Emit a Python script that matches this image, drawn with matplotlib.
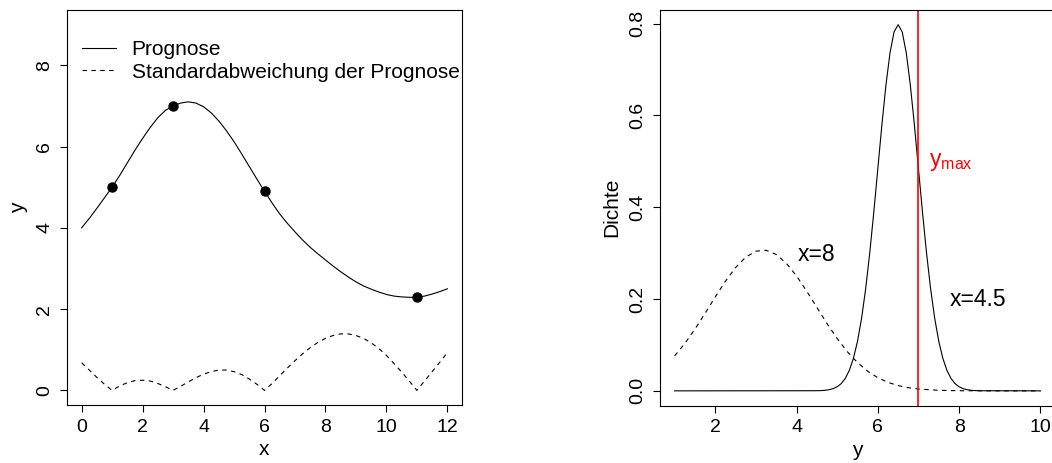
import numpy as np
import matplotlib
matplotlib.use("Agg")
import matplotlib.pyplot as plt

plt.rcParams['font.family'] = ['Liberation Sans', 'DejaVu Sans']
plt.rcParams['font.size'] = 14

# observed points
obs_x = [1, 3, 6, 11]
obs_y = [5.0, 7.0, 4.9, 2.3]

# prediction and its standard deviation, sampled every 0.25 on x in [0, 12]
grid_x = np.arange(0, 12.01, 0.25)
prognose = [4.00, 4.23, 4.48, 4.74, 5.00, 5.29, 5.60, 5.91, 6.20, 6.47, 6.71, 6.89,
            7.00, 7.07, 7.10, 7.07, 6.98, 6.83, 6.63, 6.39, 6.12, 5.82, 5.51, 5.20,
            4.90, 4.61, 4.34, 4.11, 3.90, 3.70, 3.52, 3.36, 3.21, 3.06, 2.92, 2.79,
            2.67, 2.57, 2.49, 2.42, 2.36, 2.32, 2.30, 2.29, 2.29, 2.32, 2.37, 2.43, 2.50]
sd_prognose = [0.68, 0.50, 0.32, 0.15, 0.00, 0.11, 0.19, 0.24, 0.25, 0.23, 0.17, 0.09,
               0.00, 0.10, 0.21, 0.31, 0.40, 0.46, 0.50, 0.50, 0.46, 0.39, 0.28, 0.15,
               0.00, 0.17, 0.36, 0.55, 0.73, 0.90, 1.05, 1.18, 1.28, 1.35, 1.39, 1.39,
               1.35, 1.28, 1.17, 1.03, 0.86, 0.66, 0.45, 0.23, 0.00, 0.23, 0.46, 0.69, 0.93]

# predictive density at x=4.5 (solid)
y_45 = np.concatenate([[1.0], np.round(np.arange(4.5, 8.51, 0.1), 1), [10.0]])
dichte_45 = [0.0,
             0.0003, 0.0006, 0.0012, 0.0025, 0.0048, 0.0089, 0.0158, 0.0272, 0.0448, 0.0709,
             0.1080, 0.1579, 0.2218, 0.2995, 0.3884, 0.4839, 0.5794, 0.6664, 0.7365, 0.7821,
             0.7979,
             0.7821, 0.7365, 0.6664, 0.5794, 0.4839, 0.3884, 0.2995, 0.2218, 0.1579, 0.1080,
             0.0709, 0.0448, 0.0272, 0.0158, 0.0089, 0.0048, 0.0025, 0.0012, 0.0006, 0.0003,
             0.0]

# predictive density at x=8 (dashed)
y_8 = np.concatenate([np.arange(1.0, 7.01, 0.25), [7.5, 8.0, 9.0, 10.0]])
dichte_8 = [0.0762, 0.1031, 0.1345, 0.1690, 0.2047, 0.2389, 0.2687, 0.2913, 0.3043,
            0.3063, 0.2972, 0.2778, 0.2503, 0.2173, 0.1819, 0.1466, 0.1140, 0.0853,
            0.0616, 0.0428, 0.0287, 0.0185, 0.0115, 0.0069, 0.0040, 0.0012, 0.0003,
            0.0, 0.0]

y_max = 7.0

fig = plt.figure(figsize=(10.52, 4.63), dpi=100)
ax1 = fig.add_axes([67 / 1052, 1 - 405 / 463, 395 / 1052, 395 / 463])
ax2 = fig.add_axes([660 / 1052, 1 - 405.5 / 463, 395 / 1052, 395.5 / 463])

lw = 0.8

# left panel: prediction
ax1.plot(grid_x, prognose, color='black', lw=lw, label='Prognose')
ax1.plot(grid_x, sd_prognose, color='black', lw=lw, dashes=(4, 4),
         label='Standardabweichung der Prognose')
ax1.plot(obs_x, obs_y, 'o', color='black', ms=6.5)
ax1.set_xlim(-0.48, 12.48)
ax1.set_ylim(-0.36, 9.36)
ax1.set_xticks(range(0, 13, 2))
ax1.set_yticks(range(0, 9, 2))
ax1.set_xlabel('x', labelpad=3, fontsize=15)
ax1.set_ylabel('y', labelpad=6, fontsize=15)
ax1.legend(loc='upper left', bbox_to_anchor=(0.0, 0.96), frameon=False, fontsize=15,
           borderaxespad=0.3, handlelength=1.65, handletextpad=0.75, labelspacing=0.15)

# right panel: densities
ax2.plot(y_45, dichte_45, color='black', lw=lw)
ax2.plot(y_8, dichte_8, color='black', lw=lw, dashes=(4, 4))
ax2.axvline(y_max, color='red', lw=1.2)
ax2.text(7.27, 0.5, r'$\mathregular{y_{max}}$', color='red', fontsize=16.5,
         ha='left', va='center')
ax2.text(4.5, 0.297, 'x=8', ha='center', va='center', fontsize=16.5)
ax2.text(8.47, 0.198, 'x=4.5', ha='center', va='center', fontsize=16.5)
ax2.set_xlim(0.64, 10.36)
ax2.set_ylim(-0.0319, 0.8298)
ax2.set_xticks(range(2, 11, 2))
ax2.set_yticks([0.0, 0.2, 0.4, 0.6, 0.8])
ax2.set_yticklabels(['0.0', '0.2', '0.4', '0.6', '0.8'])
ax2.set_xlabel('y', labelpad=3, fontsize=15)
ax2.set_ylabel('Dichte', labelpad=6, fontsize=15)

for ax in (ax1, ax2):
    for s in ax.spines.values():
        s.set_linewidth(0.8)
    ax.tick_params(direction='out', length=5, width=0.8, pad=5)
    for lab in ax.get_yticklabels():
        lab.set_rotation(90)
        lab.set_va('center')

fig.savefig('out.png', dpi=100)
